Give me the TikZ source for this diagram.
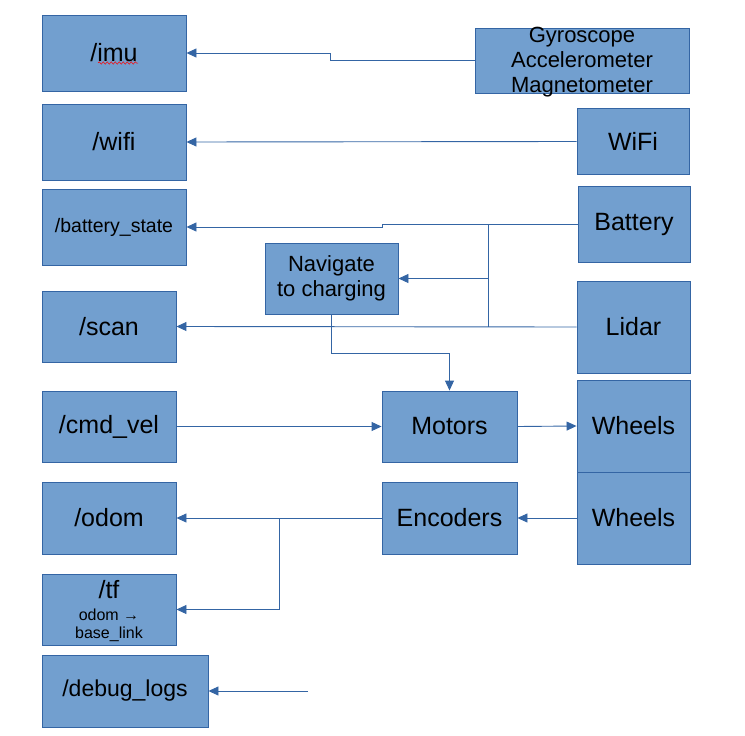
\documentclass[tikz,border=0pt]{standalone}
\usepackage{fontspec}
\setmainfont{Liberation Sans}
\usetikzlibrary{arrows.meta,decorations.pathmorphing}
\definecolor{boxfill}{HTML}{729FCF}
\definecolor{boxline}{HTML}{3465A4}
\tikzset{
  box/.style={draw=boxline, fill=boxfill, line width=0.9pt, inner sep=0pt, align=center, text=black},
  big/.style={font=\fontsize{25}{29}\selectfont},
  mid/.style={font=\fontsize{22}{25}\selectfont},
  small/.style={font=\fontsize{16}{18}\selectfont, anchor=base, inner sep=0pt},
  arr/.style={draw=boxline, line width=0.9pt, -{Triangle[length=10pt,width=9pt]}},
  link/.style={draw=boxline, line width=0.9pt}
}
\begin{document}
\begin{tikzpicture}[x=1pt,y=-1pt]
\useasboundingbox (0,0) rectangle (745,736);
% left column
\node[box,big,minimum width=144pt,minimum height=76pt] (imu) at (114,53) {/imu};
\node[box,big,minimum width=144pt,minimum height=76pt] (wifi) at (114,142) {/wifi};
\node[box,font=\fontsize{19.5}{23}\selectfont,minimum width=144pt,minimum height=76pt] (bat) at (114,227) {/battery\_state};
\node[box,big,minimum width=134pt,minimum height=71pt] (scan) at (109,326.5) {/scan};
\node[box,big,minimum width=134pt,minimum height=71pt] (cmd) at (109,426.5) {/cmd\_vel};
\node[box,big,minimum width=134pt,minimum height=72pt] (odom) at (109,518) {/odom};
\node[box,minimum width=134pt,minimum height=71pt] (tf) at (109,609.5) {};
\node[font=\fontsize{25}{29}\selectfont,anchor=base,inner sep=0pt] (tft) at (109,598) {/tf};
\node[small] (tfa) at (109,620) {odom →};
\node[small] (tfb) at (109,638) {base\_link};
\node[box,font=\fontsize{23}{27}\selectfont,minimum width=166pt,minimum height=72pt] (debug) at (125,691) {/debug\_logs};
% right column
\node[box,mid,minimum width=214pt,minimum height=65pt] (gyro) at (582,60.5) {};
\node[mid,align=center] (gyrot) at (582,62) {Gyroscope\\Accelerometer\\Magnetometer};
\node[box,big,minimum width=112pt,minimum height=66pt] (wifis) at (633,141.5) {WiFi};
\node[box,big,minimum width=112pt,minimum height=76pt] (battery) at (634,224) {Battery};
\node[box,big,minimum width=113pt,minimum height=92pt] (lidar) at (633.5,327) {Lidar};
\node[box,big,minimum width=113pt,minimum height=92pt] (wheelsa) at (633.5,426) {Wheels};
\node[box,big,minimum width=113pt,minimum height=92pt] (wheelsb) at (633.5,518) {Wheels};
% middle
\node[box,mid,minimum width=133pt,minimum height=71pt] (nav) at (331.5,278.5) {Navigate\\to charging};
\node[box,big,minimum width=135pt,minimum height=71pt] (motors) at (449.5,426.5) {Motors};
\node[box,big,minimum width=135pt,minimum height=72pt] (enc) at (449.5,518) {Encoders};
% spell-check underline
\draw[red, line width=0.5pt, decorate, decoration={snake, amplitude=1.2pt, segment length=4pt}] (98,63) -- (138,63);
% connectors
\coordinate (j1) at (488,224);
\coordinate (j2) at (488,327);
\coordinate (jt) at (279,518);
\coordinate (dbg) at (308,691);
\draw[arr] (gyro.west) -- ++(-144,0) |- (imu.east);
\draw[arr] (wifis.west) -- (wifi.east);
\draw[arr] (battery.west) -- ++(-195,0) |- (bat.east);
\draw[link] (j1) -- (j2);
\draw[arr] (j1 |- nav.east) -- (nav.east);
\draw[arr] (lidar.west) -- (scan.east);
\draw[arr] (nav.south) -- ++(0,38.5) -| (motors.north);
\draw[arr] (cmd.east) -- (motors.west);
\draw[arr] (motors.east) -- (wheelsa.west);
\draw[arr] (wheelsb.west) -- (enc.east);
\draw[arr] (enc.west) -- (odom.east);
\draw[arr] (jt) |- (tf.east);
\draw[arr] (dbg) -- (debug.east);
\end{tikzpicture}
\end{document}
